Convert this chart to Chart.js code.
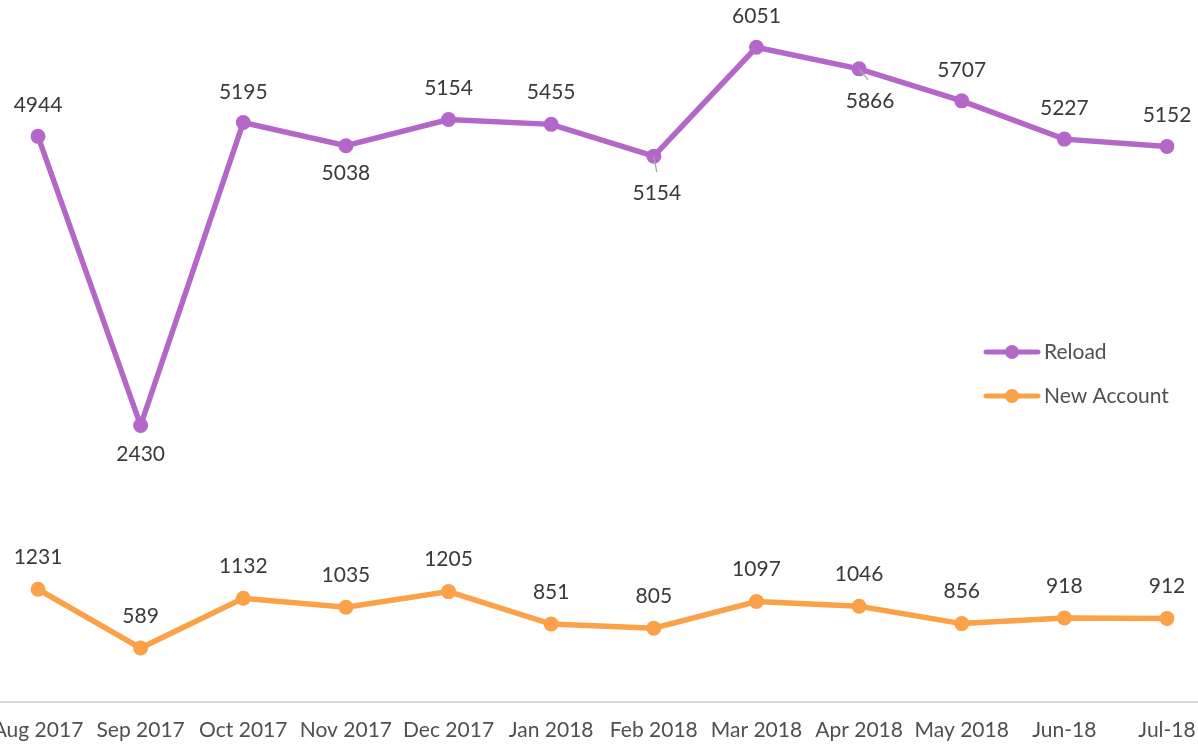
<!DOCTYPE html>
<html>
<head>
<meta charset="utf-8">
<script src="https://cdn.jsdelivr.net/npm/chart.js@4.4.1/dist/chart.umd.min.js"></script>
<style>
  html, body { margin: 0; padding: 0; background: #fff; overflow: hidden; }
  /* canvas is wider than the window so the first and last month labels run off the edges */
  #wrap { position: absolute; left: -30px; top: 0; width: 1258px; height: 744px; }
</style>
</head>
<body>
<div id="wrap"><canvas id="trendChart"></canvas></div>
<script>
"use strict";
const months = ["Aug 2017", "Sep 2017", "Oct 2017", "Nov 2017", "Dec 2017", "Jan 2018",
                "Feb 2018", "Mar 2018", "Apr 2018", "May 2018", "Jun-18", "Jul-18"];
const reload = [4944, 2430, 5195, 5038, 5154, 5455, 5154, 6051, 5866, 5707, 5227, 5152];
const newAccount = [1231, 589, 1132, 1035, 1205, 851, 805, 1097, 1046, 856, 918, 912];

const SHIFT = 30;          // how far the canvas is pushed left of the window
const FONT = "21px Lato";
const PURPLE = "#B467C9";
const ORANGE = "#FBA148";

// label placement per point: [dx, dy] from the marker centre
const reloadLabelPos = [[0, -31], [0, 29], [0, -30], [0, 28], [0, -31], [0, -32],
                        [3, 37], [0, -31], [11, 32], [0, -31], [0, -31], [0, -31]];
const reloadLeaders = [null, null, null, null, null, null, [3, 16], null, [9, 11], null, null, null];
const newAccountLabelPos = months.map(() => [0, -32]);

// light grey category axis running the full width of the window
const baseline = {
  id: "baseline",
  beforeDatasetsDraw(chart) {
    const ctx = chart.ctx;
    const y = Math.round(chart.scales.y.getPixelForValue(0));
    ctx.save();
    ctx.strokeStyle = "#d9d9d9";
    ctx.lineWidth = 2;
    ctx.beginPath();
    ctx.moveTo(0, y);
    ctx.lineTo(chart.width, y);
    ctx.stroke();
    ctx.restore();
  }
};

// value labels above / below each marker, with a few leader lines
const valueLabels = {
  id: "valueLabels",
  afterDatasetsDraw(chart) {
    const ctx = chart.ctx;
    ctx.save();
    chart.data.datasets.forEach((ds, i) => {
      const meta = chart.getDatasetMeta(i);
      meta.data.forEach((pt, j) => {
        const lead = ds.leaders && ds.leaders[j];
        if (lead) {
          ctx.strokeStyle = "#a6a6a6";
          ctx.lineWidth = 1.3;
          ctx.beginPath();
          ctx.moveTo(pt.x, pt.y);
          ctx.lineTo(pt.x + lead[0], pt.y + lead[1]);
          ctx.stroke();
        }
        const [dx, dy] = ds.labelPos[j];
        ctx.font = FONT;
        ctx.fillStyle = "#3a3a3a";
        ctx.textAlign = "center";
        ctx.textBaseline = "middle";
        ctx.fillText(String(ds.data[j]), pt.x + dx, pt.y + dy);
      });
    });
    ctx.restore();
  }
};

// legend sitting inside the plot on the right
const sideLegend = {
  id: "sideLegend",
  afterDraw(chart) {
    const ctx = chart.ctx;
    const order = [1, 0];
    ctx.save();
    order.forEach((idx, k) => {
      const ds = chart.data.datasets[idx];
      const y = 352 + k * 44;
      const x0 = 986 + SHIFT, x1 = 1038 + SHIFT;
      ctx.strokeStyle = ds.borderColor;
      ctx.lineWidth = 5;
      ctx.lineCap = "round";
      ctx.beginPath();
      ctx.moveTo(x0, y);
      ctx.lineTo(x1, y);
      ctx.stroke();
      ctx.fillStyle = ds.borderColor;
      ctx.beginPath();
      ctx.arc((x0 + x1) / 2, y, 7, 0, Math.PI * 2);
      ctx.fill();
      ctx.font = FONT;
      ctx.fillStyle = "#505050";
      ctx.textAlign = "left";
      ctx.textBaseline = "middle";
      ctx.fillText(ds.label, 1044 + SHIFT, y);
    });
    ctx.restore();
  }
};

function lineSet(label, data, color, labelPos, leaders) {
  return {
    label,
    data,
    labelPos,
    leaders,
    borderColor: color,
    backgroundColor: color,
    borderWidth: 5.5,
    pointRadius: 7.5,
    pointHoverRadius: 7.5,
    pointBorderWidth: 0,
    pointBackgroundColor: color,
    tension: 0,
    fill: false
  };
}

function drawChart() {
  new Chart(document.getElementById("trendChart"), {
    type: "line",
    data: {
      labels: months,
      datasets: [
        lineSet("New Account", newAccount, ORANGE, newAccountLabelPos, null),
        lineSet("Reload", reload, PURPLE, reloadLabelPos, reloadLeaders)
      ]
    },
    options: {
      responsive: true,
      maintainAspectRatio: false,
      animation: false,
      layout: { padding: { left: 38 + SHIFT, right: 1258 - SHIFT - 1167, top: 15, bottom: 0 } },
      plugins: { legend: { display: false }, tooltip: { enabled: false } },
      scales: {
        x: {
          grid: { display: false, drawTicks: false },
          border: { display: false },
          ticks: {
            autoSkip: false,
            maxRotation: 0,
            padding: 16,
            color: "#505050",
            font: { family: "Lato", size: 21 }
          },
          afterFit(scale) { scale.height = 42; }
        },
        y: {
          display: false,
          stacked: true,
          min: 0,
          max: 7500
        }
      }
    },
    plugins: [baseline, valueLabels, sideLegend]
  });
}

document.fonts.load(FONT).then(drawChart).catch(drawChart);
</script>
</body>
</html>
